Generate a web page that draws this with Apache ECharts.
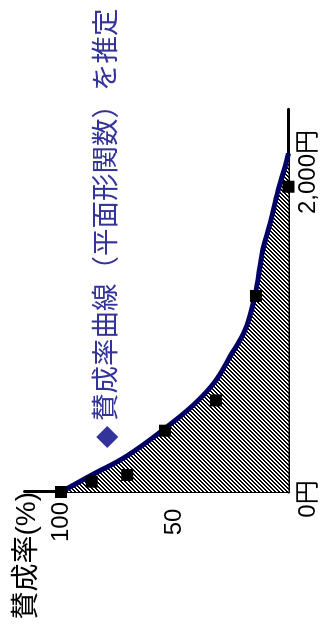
<!DOCTYPE html>
<html>
<head>
<meta charset="utf-8">
<script src="https://cdn.jsdelivr.net/npm/echarts@6/dist/echarts.min.js"></script>
<style>
  html, body { margin: 0; padding: 0; background: #fff; overflow: hidden; }
  /* chart is drawn landscape, then turned a quarter turn counter-clockwise */
  #chart {
    position: absolute; left: 0; top: 0;
    width: 633px; height: 334px;
    transform-origin: 0 0;
    transform: translate(0, 633px) rotate(-90deg);
  }
</style>
</head>
<body>
<div id="chart"></div>
<script>
  // 価格(円) と 賛成率(%)
  const curvePrice = [0, 104, 220, 389, 532, 675, 828, 991, 1154, 1256, 1378, 1480, 1643, 1847, 1990, 2071]
  const curveRate = [100, 86.5, 71.1, 54.3, 41.8, 32.3, 25.7, 19.1, 15.5, 14, 12.5, 11.3, 8.1, 4.5, 1.5, 0]

  const surveyPrice = [0, 63, 104, 375, 560, 1199, 1867]
  const surveyRate = [100, 86.5, 70.9, 54.3, 31.9, 14.3, 0]

  const priceTickLabels = ['0円', '2,000円']
  const seriesName = '賛成率曲線（平面形関数）を推定'
  const axisName = '賛成率(%)'

  const font = "'Liberation Sans', 'Noto Sans CJK JP', sans-serif"

  // small diagonal hatch tile for the area under the curve
  const makeHatch = () => {
    const c = document.createElement('canvas')
    c.width = 4
    c.height = 4
    const g = c.getContext('2d')
    g.fillStyle = '#fff'
    g.fillRect(0, 0, 4, 4)
    g.fillStyle = '#000'
    for (let y = 0; y < 4; y++) {
      g.fillRect((3 - y) % 4, y, 1, 1)
      g.fillRect((4 - y) % 4, y, 1, 1)
    }
    return c
  }

  const chart = echarts.init(document.getElementById('chart'))

  const option = {
    animation: false,
    backgroundColor: '#fff',
    textStyle: { fontFamily: font },
    legend: {
      left: 185,
      top: 93.5,
      padding: 0,
      icon: 'diamond',
      itemWidth: 22,
      itemHeight: 22,
      textStyle: { fontSize: 27.5, color: '#333399', fontFamily: font },
      data: [{ name: seriesName, itemStyle: { color: '#333399', borderWidth: 0 } }]
    },
    grid: { left: 141, top: 24.6, right: 109.4, bottom: 45.5 },
    xAxis: {
      type: 'value',
      min: 0,
      max: 2340,
      interval: 2000,
      axisLine: { lineStyle: { color: '#000', width: 3 } },
      axisTick: { show: false },
      splitLine: { show: false },
      axisLabel: {
        showMaxLabel: false,
        margin: 8,
        padding: [0, 14, 0, 0],
        fontSize: 24,
        color: '#000',
        fontFamily: font,
        formatter: v => priceTickLabels[Math.round(v / 2000)] || ''
      }
    },
    yAxis: {
      type: 'value',
      min: 0,
      max: 116,
      interval: 50,
      name: axisName,
      nameLocation: 'end',
      nameGap: -3,
      nameTextStyle: { fontSize: 28, color: '#000', align: 'right', verticalAlign: 'middle', fontFamily: font },
      axisLine: { show: true, lineStyle: { color: '#000', width: 3 } },
      axisTick: { show: false },
      splitLine: { show: false },
      axisLabel: {
        showMinLabel: false,
        showMaxLabel: false,
        margin: 30,
        align: 'center',
        fontSize: 24,
        color: '#000',
        fontFamily: font
      }
    },
    series: [
      {
        name: seriesName,
        type: 'line',
        smooth: 0.4,
        showSymbol: false,
        data: curvePrice.map((p, i) => [p, curveRate[i]]),
        lineStyle: { color: '#000066', width: 5 },
        itemStyle: { color: '#000066' },
        areaStyle: { color: { image: makeHatch(), repeat: 'repeat' }, opacity: 1 },
        z: 2
      },
      {
        name: '調査',
        type: 'scatter',
        symbol: 'rect',
        symbolSize: 12,
        data: surveyPrice.map((p, i) => [p, surveyRate[i]]),
        itemStyle: { color: '#000', opacity: 1 },
        z: 3
      }
    ]
  }

  chart.setOption(option)
</script>
</body>
</html>
